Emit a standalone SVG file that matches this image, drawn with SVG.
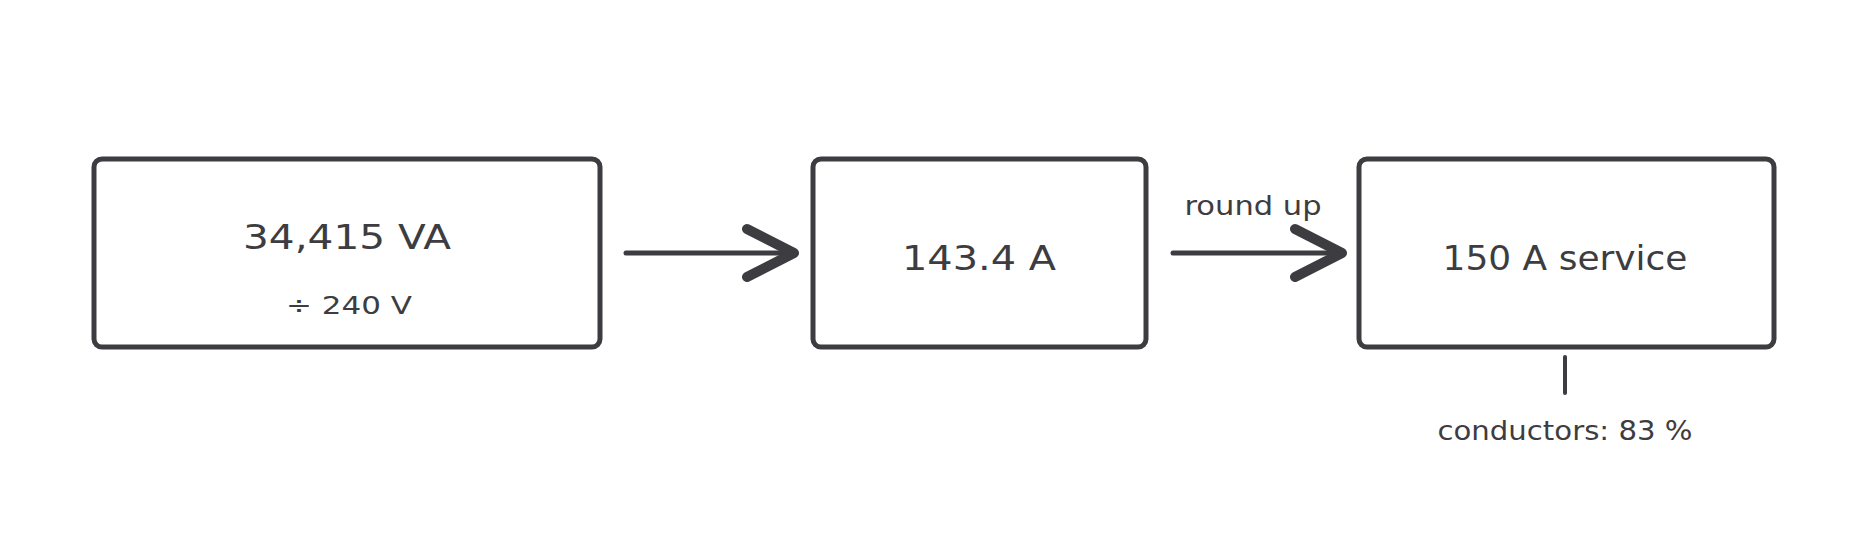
<svg xmlns="http://www.w3.org/2000/svg" width="1867" height="533" viewBox="0 0 1867 533">
<style>
.box{fill:#ffffff;stroke:#3d3d41;stroke-width:5}
.t{font-family:"DejaVu Sans","Liberation Sans",sans-serif;fill:#3d3d41;text-anchor:middle}
.ln{fill:none;stroke:#3d3d41;stroke-width:5;stroke-linecap:round}
.hd{fill:none;stroke:#3d3d41;stroke-width:10;stroke-linecap:round;stroke-linejoin:round}
</style>
<rect width="1867" height="533" fill="#ffffff"/>
<g id="node-va">
<rect class="box" x="94" y="159" width="506" height="188" rx="8"/>
<text class="t" x="347" y="249" font-size="33" textLength="208" lengthAdjust="spacingAndGlyphs">34,415 VA</text>
<text class="t" x="349" y="314" font-size="25" textLength="126" lengthAdjust="spacingAndGlyphs">÷ 240 V</text>
</g>
<g id="node-amps">
<rect class="box" x="813" y="159" width="333" height="188" rx="8"/>
<text class="t" x="979" y="270" font-size="33" textLength="154" lengthAdjust="spacingAndGlyphs">143.4 A</text>
</g>
<g id="node-service">
<rect class="box" x="1359" y="159" width="415" height="188" rx="8"/>
<text class="t" x="1565" y="270" font-size="33" textLength="245" lengthAdjust="spacingAndGlyphs">150 A service</text>
</g>
<g id="connectors">
<line class="ln" x1="626" y1="253" x2="792" y2="253"/>
<polyline class="hd" points="747,229 794,253 747,277"/>
<line class="ln" x1="1173" y1="253" x2="1340" y2="253"/>
<polyline class="hd" points="1295,229 1342,253 1295,277"/>
<text class="t" x="1253" y="215" font-size="26" textLength="137" lengthAdjust="spacingAndGlyphs">round up</text>
<line class="ln" x1="1565" y1="357" x2="1565" y2="393" style="stroke-width:4"/>
<text class="t" x="1565" y="440" font-size="26" textLength="255" lengthAdjust="spacingAndGlyphs">conductors: 83 %</text>
</g>
</svg>
